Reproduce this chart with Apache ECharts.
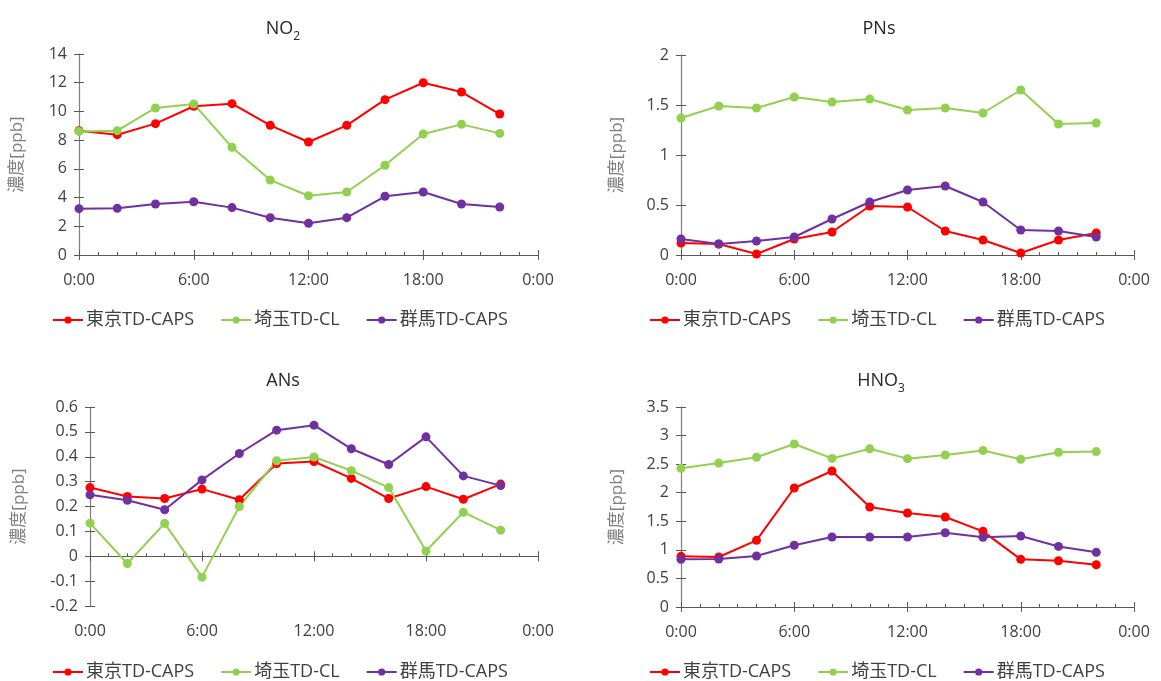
<!DOCTYPE html>
<html>
<head>
<meta charset="utf-8">
<script src="https://cdn.jsdelivr.net/npm/echarts@6/dist/echarts.min.js"></script>
<style>html,body{margin:0;padding:0;background:#fff;}#c{width:1161px;height:681px;}</style>
</head>
<body>
<div id="c"></div>
<script>
// hours of day
var hours = [0, 2, 4, 6, 8, 10, 12, 14, 16, 18, 20, 22];
var seriesNames = ['東京TD-CAPS', '埼玉TD-CL', '群馬TD-CAPS'];

// NO2 [ppb]
var no2Tokyo   = [8.66, 8.38, 9.15, 10.36, 10.54, 9.03, 7.87, 9.03, 10.82, 12.0, 11.35, 9.82];
var no2Saitama = [8.61, 8.66, 10.24, 10.52, 7.5, 5.22, 4.13, 4.39, 6.25, 8.43, 9.10, 8.47];
var no2Gunma   = [3.23, 3.25, 3.55, 3.71, 3.30, 2.60, 2.21, 2.60, 4.09, 4.39, 3.55, 3.34];

// PNs [ppb]
var pnTokyo   = [0.12, 0.11, 0.01, 0.16, 0.23, 0.49, 0.48, 0.24, 0.15, 0.02, 0.15, 0.22];
var pnSaitama = [1.37, 1.49, 1.47, 1.58, 1.53, 1.56, 1.45, 1.47, 1.42, 1.65, 1.31, 1.32];
var pnGunma   = [0.16, 0.11, 0.14, 0.18, 0.36, 0.53, 0.65, 0.69, 0.53, 0.25, 0.24, 0.18];

// ANs [ppb]
var anTokyo   = [0.276, 0.24, 0.232, 0.27, 0.227, 0.373, 0.381, 0.313, 0.232, 0.28, 0.229, 0.29];
var anSaitama = [0.133, -0.029, 0.132, -0.084, 0.2, 0.384, 0.399, 0.344, 0.276, 0.021, 0.177, 0.105];
var anGunma   = [0.247, 0.225, 0.187, 0.307, 0.413, 0.507, 0.527, 0.432, 0.369, 0.48, 0.323, 0.284];

// HNO3 [ppb]
var hno3Tokyo   = [0.887, 0.875, 1.167, 2.083, 2.38, 1.75, 1.645, 1.575, 1.324, 0.834, 0.81, 0.74];
var hno3Saitama = [2.427, 2.52, 2.62, 2.853, 2.60, 2.77, 2.596, 2.66, 2.74, 2.585, 2.707, 2.72];
var hno3Gunma   = [0.834, 0.84, 0.893, 1.08, 1.225, 1.225, 1.225, 1.30, 1.22, 1.243, 1.06, 0.957];

// y-axis ranges [min, max, interval]
var no2Axis  = [0, 14, 2];
var pnAxis   = [0, 2, 0.5];
var anAxis   = [-0.2, 0.6, 0.1];
var hno3Axis = [0, 3.5, 0.5];

var colors = ['#ff0000', '#92d050', '#7030a0'];
var FONT = 'Open Sans, Noto Sans CJK JP, sans-serif';
var TXT = '#404040';

var panels = [
  {title: '{a|NO}{s|2}', data: [no2Tokyo, no2Saitama, no2Gunma], ax: no2Axis, gap: 53,
   grid: {left: 79, top: 54, width: 459, height: 201}, tx: 278, ty: 7, ly: 311, lx: 52},
  {title: '{a|PNs}', data: [pnTokyo, pnSaitama, pnGunma], ax: pnAxis, gap: 55,
   grid: {left: 681, top: 55, width: 453, height: 200}, tx: 874, ty: 7, ly: 311, lx: 649},
  {title: '{a|ANs}', data: [anTokyo, anSaitama, anGunma], ax: anAxis, gap: 62,
   grid: {left: 90, top: 407, width: 448, height: 199}, tx: 278, ty: 359, ly: 663, lx: 52},
  {title: '{a|HNO}{s|3}', data: [hno3Tokyo, hno3Saitama, hno3Gunma], ax: hno3Axis, gap: 55,
   grid: {left: 681, top: 407, width: 453, height: 200}, tx: 876, ty: 359, ly: 663, lx: 649}
];

function hourFmt(v) { return (v % 24) + ':00'; }

var option = {
  backgroundColor: '#fff',
  animation: false,
  title: [], grid: [], xAxis: [], yAxis: [], series: [], legend: []
};

panels.forEach(function (p, i) {
  option.title.push({
    text: p.title, left: p.tx, top: p.ty, textAlign: 'center',
    textStyle: {
      rich: {
        a: {fontFamily: FONT, fontSize: 18, color: '#262626', fontWeight: 'normal', lineHeight: 26, verticalAlign: 'bottom'},
        s: {fontFamily: FONT, fontSize: 12, color: '#262626', fontWeight: 'normal', lineHeight: 26, verticalAlign: 'bottom', padding: [0, 0, -5, 0]}
      }
    }
  });
  option.grid.push(Object.assign({containLabel: false}, p.grid));
  var base = {
    type: 'value', gridIndex: i, min: 0, max: 24, interval: 6,
    splitLine: {show: false}
  };
  // main axis: line + inside ticks (major + minor)
  option.xAxis.push(Object.assign({}, base, {
    position: 'bottom',
    axisLine: {show: true, onZero: true, lineStyle: {color: '#595959', width: 1.2}},
    axisTick: {show: true, inside: true, length: 5, lineStyle: {color: '#595959'}},
    minorTick: {show: true, splitNumber: 6, length: 3, lineStyle: {color: '#595959'}},
    axisLabel: {show: false}
  }));
  // outward major ticks (cross marks)
  option.xAxis.push(Object.assign({}, base, {
    position: 'bottom',
    axisLine: {show: false, onZero: true},
    axisTick: {show: true, inside: false, length: 5, lineStyle: {color: '#595959'}},
    axisLabel: {show: false}
  }));
  // labels at bottom
  option.xAxis.push(Object.assign({}, base, {
    position: 'bottom',
    axisLine: {show: false, onZero: false},
    axisTick: {show: false},
    axisLabel: {show: true, margin: 17, color: TXT, fontFamily: FONT, fontSize: 16, formatter: hourFmt}
  }));
  var ybase = {
    type: 'value', gridIndex: i, min: p.ax[0], max: p.ax[1], interval: p.ax[2],
    position: 'left', splitLine: {show: false}
  };
  option.yAxis.push(Object.assign({}, ybase, {
    name: '濃度[ppb]', nameLocation: 'middle', nameGap: p.gap,
    nameTextStyle: {color: '#7f7f7f', fontFamily: FONT, fontSize: 17},
    axisLine: {show: true, onZero: false, lineStyle: {color: '#7f7f7f', width: 1.2}},
    axisTick: {show: true, length: 5, lineStyle: {color: '#595959'}},
    axisLabel: {color: TXT, fontFamily: FONT, fontSize: 16, margin: 12}
  }));
  // inward ticks (cross marks on the value axis)
  option.yAxis.push(Object.assign({}, ybase, {
    axisLine: {show: false, onZero: false},
    axisTick: {show: true, inside: true, length: 5, lineStyle: {color: '#595959'}},
    axisLabel: {show: false}
  }));
  p.data.forEach(function (arr, k) {
    var pts = hours.map(function (h, j) { return [h, arr[j]]; });
    option.series.push({
      type: 'line', name: seriesNames[k] + '#' + i, xAxisIndex: i * 3, yAxisIndex: i * 2,
      data: pts, color: colors[k], symbol: 'circle', symbolSize: 9,
      lineStyle: {width: 2, color: colors[k]},
      itemStyle: {color: colors[k]}
    });
  });
  option.legend.push({
    data: seriesNames.map(function (n) { return n + '#' + i; }),
    left: p.lx, top: p.ly, padding: 0, itemGap: 26, itemWidth: 30, itemHeight: 9,
    formatter: function (n) { return n.split('#')[0]; },
    textStyle: {color: TXT, fontFamily: FONT, fontSize: 18, padding: [0, 0, 0, -2]}
  });
});

var chart = echarts.init(document.getElementById('c'), null, {renderer: 'canvas'});
chart.setOption(option);
</script>
</body>
</html>
